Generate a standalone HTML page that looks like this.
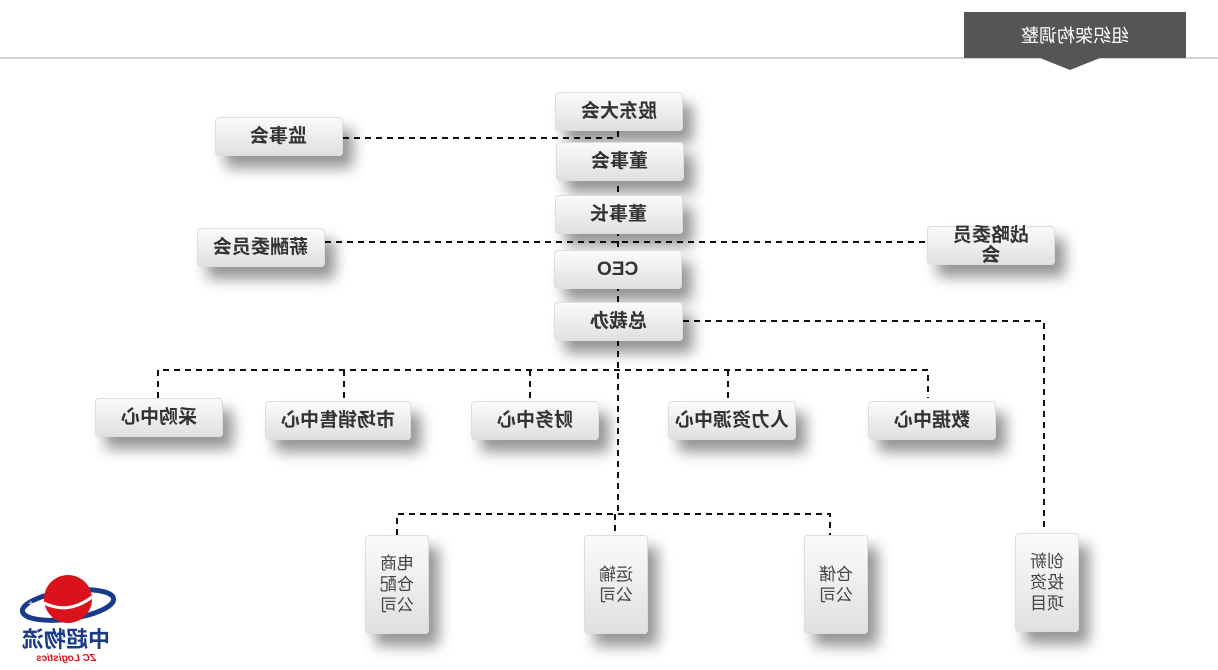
<!DOCTYPE html>
<html><head><meta charset="utf-8"><style>
body{margin:0;width:1218px;height:670px;background:#fff;position:relative;overflow:hidden;font-family:"Liberation Sans","Noto Sans CJK SC",sans-serif}
.b{position:absolute;box-sizing:border-box;border-radius:4px;background:linear-gradient(#fbfbfb,#e0e0e0);border:1px solid #ddd;box-shadow:10px 12px 14px rgba(0,0,0,.42);display:flex;align-items:center;justify-content:center;text-align:center;color:#333;font-weight:bold;font-size:19px;line-height:20px}
.v{font-weight:normal;font-size:17px;line-height:21px;color:#444}
.m{display:inline-block;transform:scaleX(-1)}
svg{position:absolute;left:0;top:0}
</style></head><body>
<svg width="1218" height="670">
<line x1="0" y1="58" x2="1218" y2="58" stroke="#aaa" stroke-width="1"/>
<polygon points="964,12 1186,12 1186,58 1100,58 1070,70 1040,58 964,58" fill="#555"/>
<g stroke="#111" stroke-width="2" stroke-dasharray="6,5" fill="none">
<line x1="618" y1="131" x2="618" y2="514"/>
<line x1="343" y1="138" x2="618" y2="138"/>
<line x1="325" y1="242" x2="927" y2="242"/>
<polyline points="158,398 158,370 928,370 928,398"/>
<line x1="344" y1="370" x2="344" y2="398"/>
<line x1="530" y1="370" x2="530" y2="398"/>
<line x1="728" y1="370" x2="728" y2="398"/>
<polyline points="397,535 397,514 830,514 830,535"/>
<line x1="615" y1="514" x2="615" y2="535"/>
<polyline points="683,321 1044,321 1044,530"/>
</g>
<g transform="translate(68,605)">
<ellipse cx="0" cy="0" rx="46" ry="14" fill="none" stroke="#1a3a8a" stroke-width="5" transform="rotate(-8)"/>
<circle cx="0" cy="-6" r="24" fill="#d9121b"/>
<path d="M-24,-2 Q0,10 24,-8" stroke="#fff" stroke-width="3" fill="none"/>
<text x="-40" y="2" fill="#fff" font-size="10">+</text>
</g>
</svg>
<div style="position:absolute;left:964px;top:12px;width:222px;height:46px;display:flex;align-items:center;justify-content:center;color:#fff;font-size:18px"><span class="m">组织架构调整</span></div>
<div style="position:absolute;left:14px;top:628px;width:104px;text-align:center;color:#1a3a8a;font-weight:bold;font-size:22px;line-height:24px"><span class="m">中超物流</span></div>
<div style="position:absolute;left:14px;top:653px;width:104px;text-align:center;color:#d9121b;font-weight:bold;font-style:italic;font-size:10px"><span class="m">ZC Logistics</span></div>

<div class="b" style="left:555px;top:92px;width:128px;height:39px"><span class="m">股东大会</span></div>
<div class="b" style="left:556px;top:142px;width:128px;height:39px"><span class="m">董事会</span></div>
<div class="b" style="left:555px;top:195px;width:128px;height:39px"><span class="m">董事长</span></div>
<div class="b" style="left:554px;top:250px;width:128px;height:39px"><span class="m">CEO</span></div>
<div class="b" style="left:554px;top:302px;width:129px;height:39px"><span class="m">总裁办</span></div>
<div class="b" style="left:215px;top:117px;width:128px;height:39px"><span class="m">监事会</span></div>
<div class="b" style="left:197px;top:228px;width:128px;height:39px"><span class="m">薪酬委员会</span></div>
<div class="b" style="left:927px;top:226px;width:128px;height:39px"><span class="m">战略委员<br>会</span></div>
<div class="b" style="left:95px;top:398px;width:128px;height:39px"><span class="m">采购中心</span></div>
<div class="b" style="left:265px;top:401px;width:146px;height:39px"><span class="m">市场销售中心</span></div>
<div class="b" style="left:471px;top:401px;width:128px;height:39px"><span class="m">财务中心</span></div>
<div class="b" style="left:668px;top:401px;width:128px;height:39px"><span class="m">人力资源中心</span></div>
<div class="b" style="left:868px;top:401px;width:128px;height:39px"><span class="m">数据中心</span></div>
<div class="b v" style="left:365px;top:535px;width:64px;height:99px"><span class="m">电商<br>仓配<br>公司</span></div>
<div class="b v" style="left:584px;top:535px;width:64px;height:99px"><span class="m">运输<br>公司</span></div>
<div class="b v" style="left:804px;top:535px;width:64px;height:99px"><span class="m">仓储<br>公司</span></div>
<div class="b v" style="left:1015px;top:533px;width:64px;height:99px"><span class="m">创新<br>投资<br>项目</span></div>
</body></html>
